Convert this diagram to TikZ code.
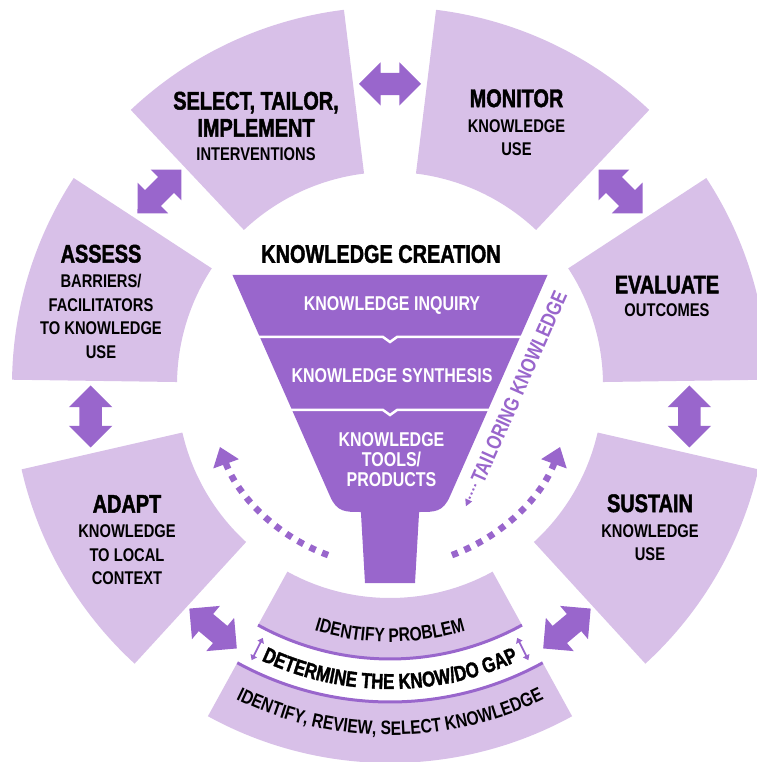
\documentclass[tikz,border=0pt]{standalone}
\usepackage{fontspec}
\setmainfont{Liberation Sans}[FakeStretch=0.8]
\newfontfamily\heavyfont{Liberation Sans Bold}[FakeStretch=0.78,FakeBold=1.6]
\usetikzlibrary{shapes.arrows,arrows.meta,decorations.text,calc}
\definecolor{ringlight}{HTML}{D8C0E8}
\definecolor{ringdark}{HTML}{9966CC}
\newcommand{\ttl}[1]{{\normalfont\heavyfont\fontsize{25.5}{23.5}\selectfont #1}}
\newcommand{\bandfont}{\normalfont\bfseries\fontsize{19.5}{20}\selectfont}
\tikzset{
  segment/.style={fill=ringlight},
  blockarrow/.style={double arrow, fill=ringdark, minimum height=62pt, minimum width=43pt,
    double arrow head extend=10.5pt, inner sep=0pt, text height=11pt, text depth=11pt},
  segtext/.style={align=center, inner sep=0pt, font=\fontsize{18.4}{23.5}\selectfont\bfseries},
  funneltext/.style={align=center, inner sep=0pt, text=white, font=\fontsize{20}{20}\selectfont\bfseries},
  sepline/.style={draw=white, line width=2.5pt},
  bandline/.style={draw=ringdark, line width=3pt},
  gaparrow/.style={draw=ringdark, line width=1.8pt, {Triangle[width=7pt,length=5pt]}-{Triangle[width=7pt,length=5pt]}},
  dotarc/.style={draw=ringdark, line width=6.5pt, dash pattern=on 6.5pt off 7pt, -{Triangle[width=26pt,length=18pt]}},
  taildots/.style={draw=ringdark, line width=2pt, dash pattern=on 2pt off 2.5pt, shorten <=3pt, -{Triangle[width=7pt,length=7pt]}},
  bandtext/.style={decorate, decoration={text along path, text align=center, #1}}
}
\begin{document}
\begin{tikzpicture}[x=1pt, y=1pt]
  \useasboundingbox (-390,-377) rectangle (366,385);
  % ring segments
  \foreach \a/\b in {97/133.3, 46.7/83, 146.8/179.2, 0.8/33.2, 192.9/227.5, 312.5/347.1} {
    \fill[segment] (\a:213) arc[start angle=\a, end angle=\b, radius=213]
      -- (\b:378) arc[start angle=\b, end angle=\a, radius=378] -- cycle;
  }
  % bottom segment, two bands
  \fill[segment] (241.2:213) arc[start angle=241.2, end angle=298.8, radius=213]
    -- (298.8:274) arc[start angle=298.8, end angle=241.2, radius=274] -- cycle;
  \fill[segment] (241.2:317) arc[start angle=241.2, end angle=298.8, radius=317]
    -- (298.8:378) arc[start angle=298.8, end angle=241.2, radius=378] -- cycle;
  \draw[bandline] (241.2:274) arc[start angle=241.2, end angle=298.8, radius=274];
  \draw[bandline] (241.2:317) arc[start angle=241.2, end angle=298.8, radius=317];
  \foreach \g in {243.3, 296.7} {
    \coordinate (gapin) at (\g:283);
    \coordinate (gapout) at (\g:308);
    \draw[gaparrow] (gapin) -- (gapout);
  }
  % arrows between segments
  \foreach \ang/\rot in {90/0, 140/45, 186/90, 234/-40, 40/-45, 354/90, 306/40} {
    \node[blockarrow, rotate=\rot] (arr\ang) at (\ang:301) {};
  }
  % funnel
  \fill[ringdark] (-157.5,110) -- (157.5,110) -- (59.9,-111.4)
    .. controls (53,-127) and (45,-127) .. (29.5,-127) -- (-29.5,-127)
    .. controls (-45,-127) and (-53,-127) .. (-59.9,-111.4) -- cycle;
  \fill[ringdark] (-29.5,-120) -- (29.5,-120) -- (25,-198) -- (-25,-198) -- cycle;
  \draw[sepline] (-132,48) -- (-7,48) -- (0,43) -- (7,48) -- (132,48);
  \draw[sepline] (-100,-25) -- (-7,-25) -- (0,-30) -- (7,-25) -- (100,-25);
  \node[font=\heavyfont\fontsize{25.5}{26}\selectfont, inner sep=0pt] (creation) at (-9,131) {KNOWLEDGE CREATION};
  \node[funneltext] (inquiry) at (2,80) {KNOWLEDGE INQUIRY};
  \node[funneltext] (synthesis) at (2,9) {KNOWLEDGE SYNTHESIS};
  \node[funneltext] (tools) at (1.5,-75) {KNOWLEDGE\\TOOLS/\\PRODUCTS};
  % tailoring knowledge
  \node[inner sep=0pt, text=ringdark, font=\fontsize{21}{21}\selectfont\bfseries, rotate=66] (tailor) at (129,-2) {TAILORING KNOWLEDGE};
  \coordinate (tailtip) at ($(tailor.west)+(246:27)$);
  \draw[taildots] (tailor.west) -- (tailtip);
  \draw[dotarc] (250:181) arc[start angle=250, end angle=200, radius=181];
  \draw[dotarc] (290:181) arc[start angle=290, end angle=340, radius=181];
  % segment texts
  \node[segtext] (select) at (-134,259) {\ttl{SELECT, TAILOR,}\\[3.5pt]\ttl{IMPLEMENT}\\INTERVENTIONS};
  \node[segtext] (monitor) at (126.5,262.5) {\ttl{MONITOR}\\[1.5pt]KNOWLEDGE\\USE};
  \node[segtext] (assess) at (-289,83.5) {\ttl{ASSESS}\\[1.5pt]BARRIERS/\\FACILITATORS\\TO KNOWLEDGE\\USE};
  \node[segtext] (evaluate) at (277,88.5) {\ttl{EVALUATE}\\OUTCOMES};
  \node[segtext] (adapt) at (-263,-155) {\ttl{ADAPT}\\[1.5pt]KNOWLEDGE\\TO LOCAL\\CONTEXT};
  \node[segtext] (sustain) at (260,-142.5) {\ttl{SUSTAIN}\\[1.5pt]KNOWLEDGE\\USE};
  % bottom band texts
  \path[bandtext={text={|\bandfont|IDENTIFY PROBLEM}}] (241.2:257) arc[start angle=241.2, end angle=298.8, radius=257];
  \path[bandtext={text={|\heavyfont\fontsize{21.5}{22}\selectfont|DETERMINE THE KNOW/DO GAP}}] (241.2:304) arc[start angle=241.2, end angle=298.8, radius=304];
  \path[bandtext={text={|\bandfont|IDENTIFY, REVIEW, SELECT KNOWLEDGE}}] (241.2:350) arc[start angle=241.2, end angle=298.8, radius=350];
\end{tikzpicture}
\end{document}
